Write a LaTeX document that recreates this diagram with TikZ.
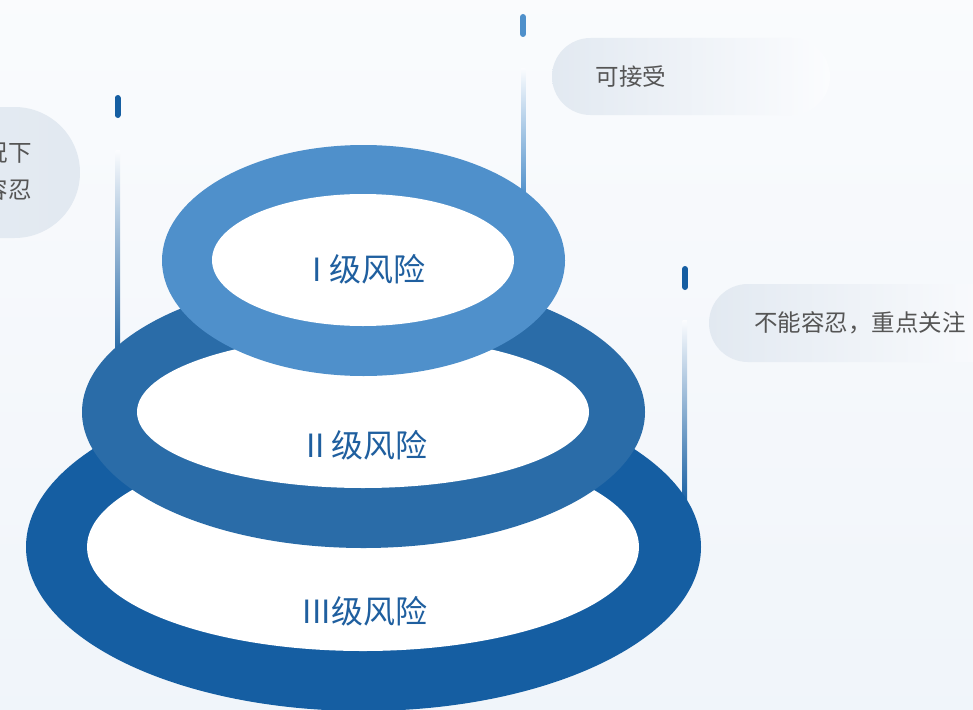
\documentclass[tikz,border=0pt]{standalone}
\usepackage{fontspec}
\newfontfamily\cjk{Noto Sans CJK SC}
\definecolor{ringA}{HTML}{4F90CB}
\definecolor{ringB}{HTML}{2A6CA8}
\definecolor{ringC}{HTML}{155EA2}
\definecolor{lbl}{HTML}{1F5F9F}
\definecolor{bubtxt}{HTML}{555555}
\definecolor{bubL}{HTML}{E2E9F1}
\definecolor{bgA}{HTML}{FBFCFE}
\definecolor{bgB}{HTML}{EFF4F9}
\tikzset{
  risklabel/.style={font=\cjk\fontsize{32}{36}\selectfont, text=lbl, inner sep=0pt},
  bubblelabel/.style={font=\cjk\fontsize{23.5}{36}\selectfont, text=bubtxt, inner sep=0pt},
  capmark/.style={line width=6pt, line cap=round},
}
\begin{document}
\begin{tikzpicture}[x=1pt,y=-1pt]
\clip (0,0) rectangle (973,709);
% background
\shade[shading angle=20, top color=bgA, bottom color=bgB] (-100,-100) rectangle (1073,809);

% bubbles
\shade[left color=bubL, right color=bgA, rounded corners=38.5pt] (552,38) rectangle (830,115);
\shade[left color=bubL, right color=bgA, rounded corners=39pt] (709,284) rectangle (1010,362);
\shade[left color=bubL!90!bgA, right color=bubL, rounded corners=65.5pt] (-80,107) rectangle (80,238);

% gradient guide lines
\shade[top color=bgA, bottom color=ringB] (115.5,150) rectangle (120,350);
\shade[top color=bgA, bottom color=ringA] (521,68) rectangle (525.5,195);
\shade[top color=bgA, bottom color=ringC] (682.5,320) rectangle (687,505);

% caps
\coordinate (capL1) at (117.5,98); \coordinate (capL2) at (117.5,115);
\coordinate (capT1) at (523,17);   \coordinate (capT2) at (523,34);
\coordinate (capR1) at (685,269);  \coordinate (capR2) at (685,287);
\draw[capmark, ringC] (capL1) -- (capL2);
\draw[capmark, ringA] (capT1) -- (capT2);
\draw[capmark, ringC] (capR1) -- (capR2);

% rings: bottom
\fill[ringC] (363.5,547) ellipse [x radius=337.5pt, y radius=164pt];
\fill[white] (363,547) ellipse [x radius=276pt, y radius=104pt];
% middle
\fill[ringB] (363.5,412) ellipse [x radius=281.5pt, y radius=136pt];
\fill[white] (363,412) ellipse [x radius=226pt, y radius=76pt];
% top
\fill[ringA] (363.5,260.5) ellipse [x radius=201.5pt, y radius=115.5pt];
\fill[white] (363,260) ellipse [x radius=151pt, y radius=66pt];

% labels
\node[risklabel] (r1) at (369,269.5) {I 级风险};
\node[risklabel] (r2) at (367,445) {II 级风险};
\node[risklabel] (r3) at (365,611) {III级风险};

\node[bubblelabel] (b1) at (631,77) {可接受};
\node[bubblelabel] (b2) at (860,323) {不能容忍，重点关注};
\node[bubblelabel, anchor=east] (b3a) at (32,153) {况下};
\node[bubblelabel, anchor=east] (b3b) at (32,189) {容忍};
\end{tikzpicture}
\end{document}
